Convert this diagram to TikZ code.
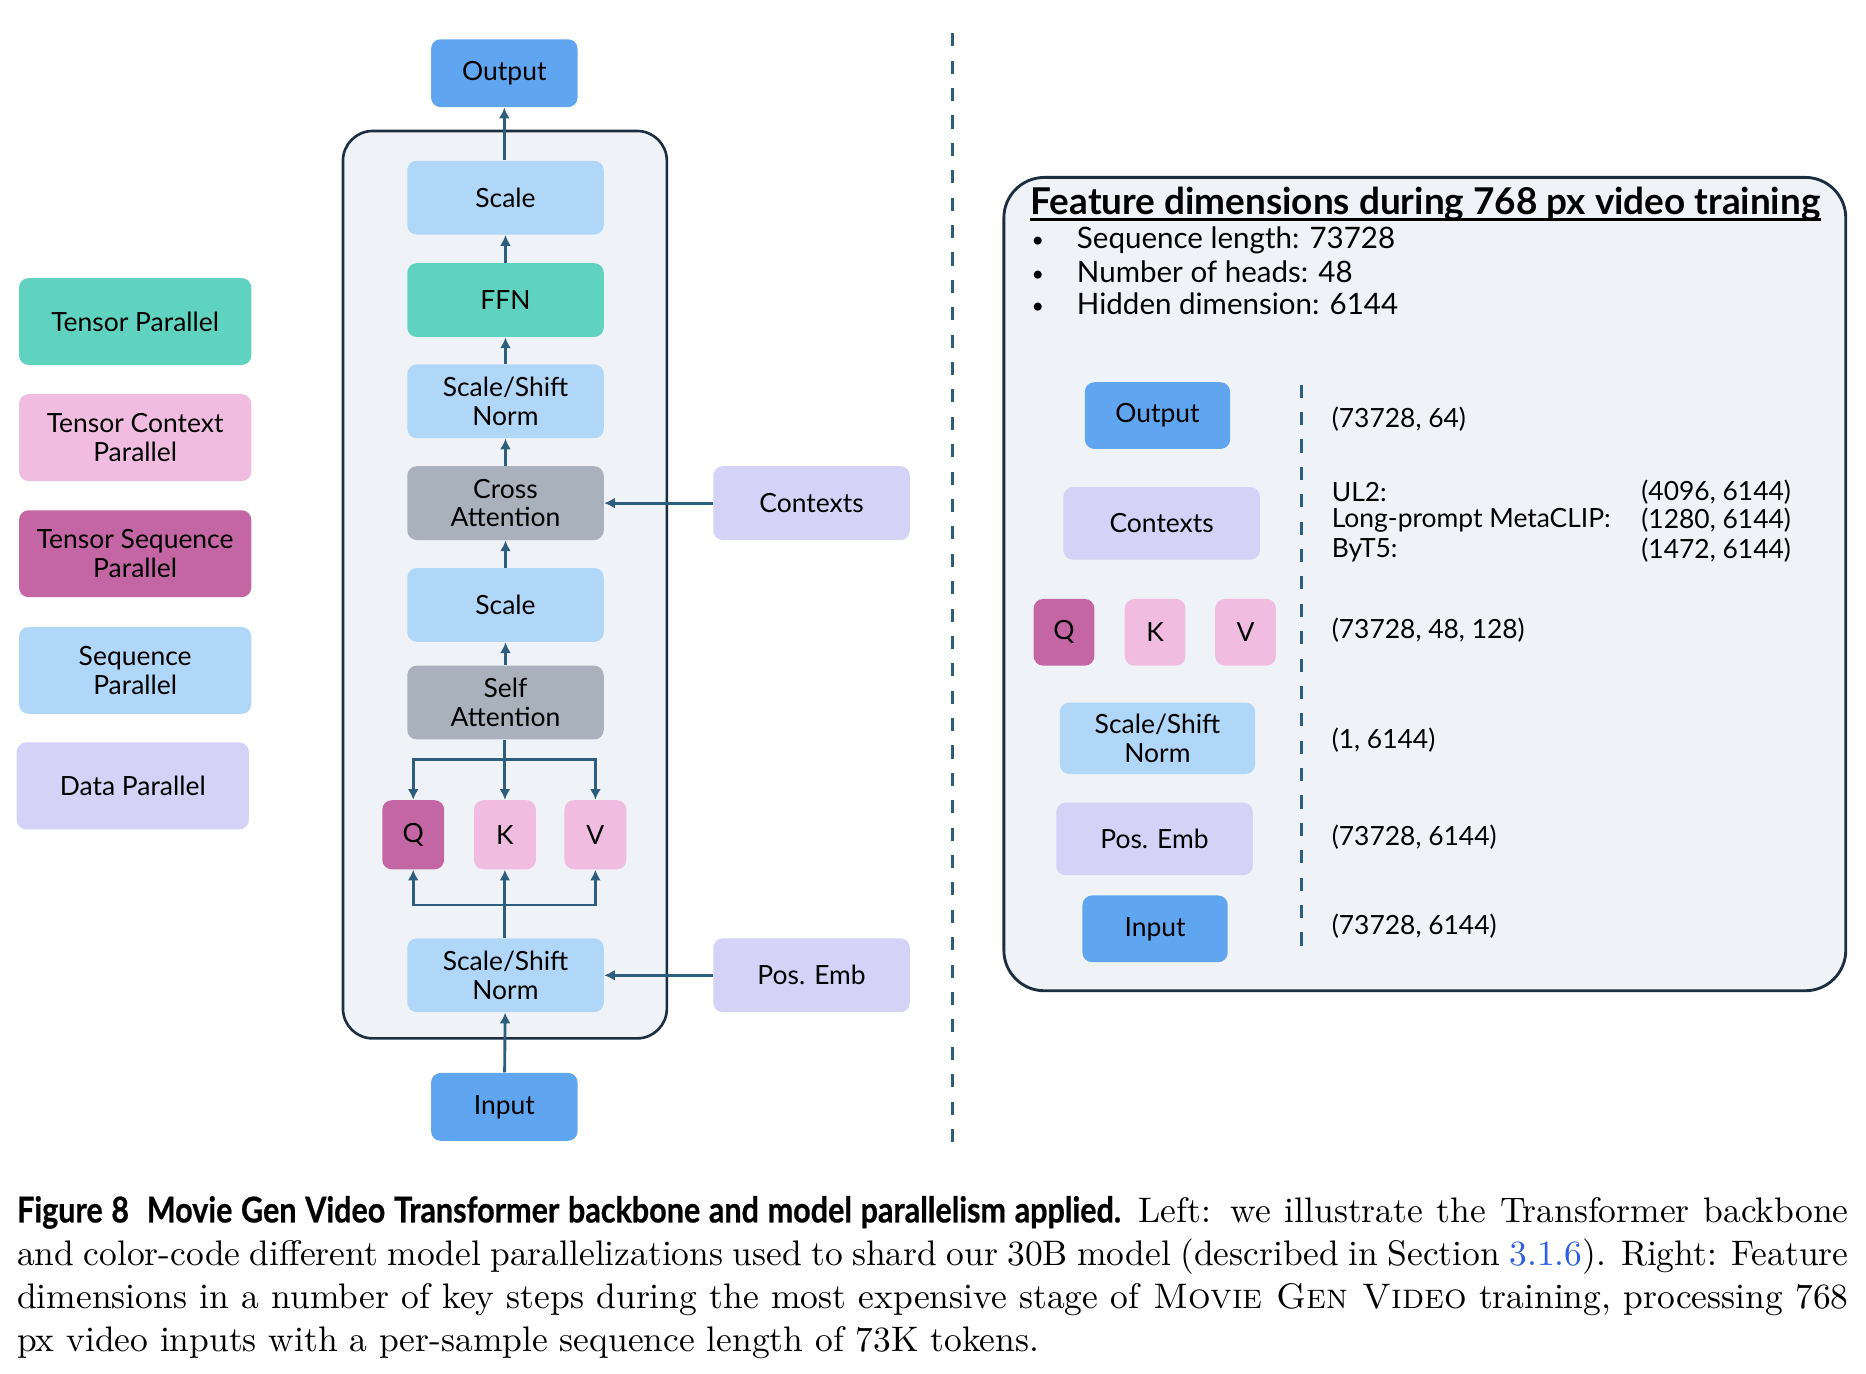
\documentclass[tikz,border=0pt]{standalone}
\usepackage{fontspec}
\usetikzlibrary{arrows.meta}
\setmainfont{lmroman10-regular.otf}[SmallCapsFont=lmromancaps10-regular.otf, BoldFont=lmroman10-bold.otf, ItalicFont=lmroman10-italic.otf]
\newfontfamily\dgfam{Lato}
\newfontfamily\condbf[FakeStretch=0.86, FakeBold=0.6]{Lato}
\definecolor{cTP}{HTML}{5FD3BF}
\definecolor{cTCP}{HTML}{F0BCE0}
\definecolor{cTSP}{HTML}{C466A4}
\definecolor{cSP}{HTML}{B0D6F8}
\definecolor{cDP}{HTML}{D4D2F6}
\definecolor{cGray}{HTML}{A9B2BC}
\definecolor{cIO}{HTML}{60A5F0}
\definecolor{cBG}{HTML}{EFF3F7}
\definecolor{cBorder}{HTML}{1C2E40}
\definecolor{cArrow}{HTML}{2E5E7E}
\definecolor{cLink}{HTML}{2E5FE0}
\tikzset{
  box/.style={rounded corners=4pt, align=center, inner sep=0pt, font=\dgfam\fontsize{11.1}{12}\selectfont},
  tp/.style={box, fill=cTP},
  tcp/.style={box, fill=cTCP},
  tsp/.style={box, fill=cTSP},
  sp/.style={box, fill=cSP},
  dp/.style={box, fill=cDP},
  gr/.style={box, fill=cGray},
  io/.style={box, fill=cIO},
  mainsz/.style={minimum width=82.5pt, minimum height=31pt},
  legsz/.style={minimum width=97.5pt, minimum height=36.5pt},
  iosz/.style={minimum width=61.5pt, minimum height=28.5pt},
  qkvsz/.style={minimum width=26pt, minimum height=29pt},
  arr/.style={draw=cArrow, line width=1.2pt, -{Latex[length=4.5pt, width=4.6pt]}},
  divider/.style={draw=cArrow, line width=1.3pt, dash pattern=on 5.5pt off 6pt},
  panel/.style={draw=cBorder, fill=cBG, inner sep=0pt},
  lbl/.style={anchor=west, inner sep=0pt, font=\dgfam\fontsize{11.1}{12}\selectfont},
  bul/.style={anchor=base west, inner sep=0pt, font=\dgfam\fontsize{12.4}{14}\selectfont},
  dot/.style={anchor=base west, inner sep=0pt, font=\dgfam\fontsize{9}{10}\selectfont}
}
\begin{document}
\begin{tikzpicture}[x=0.5pt,y=-0.5pt]
\useasboundingbox (0,0) rectangle (1567,1153.8);
% ---------- left panel ----------
\node[panel, line width=1.1pt, rounded corners=12.5pt, minimum width=136pt, minimum height=381pt] (cont) at (424,491) {};
\node[io, iosz] (out) at (423.5,61.5) {Output};
\node[sp, mainsz] (scaleA) at (424.5,166) {Scale};
\node[tp, mainsz] (ffn) at (424.5,252) {FFN};
\node[sp, mainsz] (ssnA) at (424.5,337) {Scale/Shift\\Norm};
\node[gr, mainsz] (cross) at (424.5,422.5) {Cross\\Attention};
\node[sp, mainsz] (scaleB) at (424.5,508) {Scale};
\node[gr, mainsz] (self) at (424.5,590) {Self\\Attention};
\node[tsp, qkvsz] (q) at (347,701) {Q};
\node[tcp, qkvsz] (k) at (424,701) {K};
\node[tcp, qkvsz] (v) at (500,701) {V};
\node[sp, mainsz] (ssnB) at (424.5,819) {Scale/Shift\\Norm};
\node[io, iosz] (inp) at (423.5,929.5) {Input};
\node[dp, mainsz] (ctx) at (681.5,422.5) {Contexts};
\node[dp, mainsz] (pos) at (681.5,819) {Pos. Emb};
% connectors
\draw[arr] (inp) -- (ssnB);
\draw[arr] (pos) -- (ssnB);
\coordinate (jb) at (424,760);
\coordinate (jt) at (424,638);
\draw[arr] (ssnB.north -| k) -- (k.south);
\draw[arr] (jb) -| (q.south);
\draw[arr] (jb) -| (v.south);
\draw[arr] (self.south -| k) -- (k.north);
\draw[arr] (jt) -| (q.north);
\draw[arr] (jt) -| (v.north);
\draw[arr] (self) -- (scaleB);
\draw[arr] (scaleB) -- (cross);
\draw[arr] (ctx) -- (cross);
\draw[arr] (cross) -- (ssnA);
\draw[arr] (ssnA) -- (ffn);
\draw[arr] (ffn) -- (scaleA);
\draw[arr] (scaleA.north -| out) -- (out);
% legend
\node[tp, legsz] (lTP) at (113.5,270) {Tensor Parallel};
\node[tcp, legsz] (lTCP) at (113.5,367.5) {Tensor Context\\Parallel};
\node[tsp, legsz] (lTSP) at (113.5,465) {Tensor Sequence\\Parallel};
\node[sp, legsz] (lSP) at (113.5,563) {Sequence\\Parallel};
\node[dp, legsz] (lDP) at (111.5,660) {Data Parallel};
% divider
\draw[divider] (800,28) -- (800,965);
% ---------- right panel ----------
\node[panel, line width=1.2pt, rounded corners=17pt, minimum width=353.5pt, minimum height=341.5pt] (rbox) at (1196.5,490.5) {};
\node[anchor=base west, inner sep=0pt, font=\dgfam\bfseries\fontsize{15.5}{17}\selectfont] (title) at (865,180) {Feature dimensions during 768 px video training};
\draw[line width=1.2pt] ([yshift=-2.2pt]title.base west) -- ([yshift=-2.2pt]title.base east);
\node[dot] (b1) at (866,208) {•};
\node[bul] (t1) at (904,209) {Sequence length: 73728};
\node[dot] (b2) at (866,236) {•};
\node[bul] (t2) at (904,237) {Number of heads: 48};
\node[dot] (b3) at (866,263) {•};
\node[bul] (t3) at (904,264) {Hidden dimension: 6144};
\node[io, minimum width=61pt, minimum height=28pt] (rOut) at (972,349) {Output};
\node[dp, minimum width=82.5pt, minimum height=30.5pt] (rCtx) at (975.5,439.5) {Contexts};
\node[tsp, minimum width=25.5pt, minimum height=28pt] (rQ) at (893.5,531) {Q};
\node[tcp, minimum width=25.5pt, minimum height=28pt] (rK) at (970,531) {K};
\node[tcp, minimum width=25.5pt, minimum height=28pt] (rV) at (1046,531) {V};
\node[sp, minimum width=82pt, minimum height=30pt] (rSSN) at (972,620) {Scale/Shift\\Norm};
\node[dp, minimum width=82.5pt, minimum height=30.5pt] (rPos) at (969.5,704.5) {Pos. Emb};
\node[io, minimum width=61pt, minimum height=28pt] (rIn) at (970,780) {Input};
\draw[divider, line width=1.2pt] (1093,323) -- (1093,803);
\node[lbl] (dOut) at (1118,352) {(73728, 64)};
\node[lbl] (dUL) at (1118,413) {UL2:};
\node[lbl] (dMC) at (1118,437) {Long-prompt MetaCLIP:};
\node[lbl] (dBy) at (1118,462) {ByT5:};
\node[lbl] (vUL) at (1378,413) {(4096, 6144)};
\node[lbl] (vMC) at (1378,437) {(1280, 6144)};
\node[lbl] (vBy) at (1378,462) {(1472, 6144)};
\node[lbl] (dQKV) at (1118,529) {(73728, 48, 128)};
\node[lbl] (dSSN) at (1118,622) {(1, 6144)};
\node[lbl] (dPos) at (1118,703) {(73728, 6144)};
\node[lbl] (dIn) at (1118,778) {(73728, 6144)};
% ---------- caption ----------
\node[anchor=north west, inner sep=0pt, text width=769pt, align=justify, font=\fontsize{14.9}{18}\selectfont] (cap) at (14,1004)
{{\condbf\bfseries Figure 8\enspace Movie Gen Video Transformer backbone and model parallelism applied.}\enspace Left: we illustrate the Transformer backbone\linebreak
and color-code different model parallelizations used to shard our 30B model (described in Section \textcolor{cLink}{3.1.6}). Right: Feature\linebreak
dimensions in a number of key steps during the most expensive stage of \textsc{Movie Gen Video} training, processing 768\linebreak
px video inputs with a per-sample sequence length of 73K tokens.};
\end{tikzpicture}
\end{document}
